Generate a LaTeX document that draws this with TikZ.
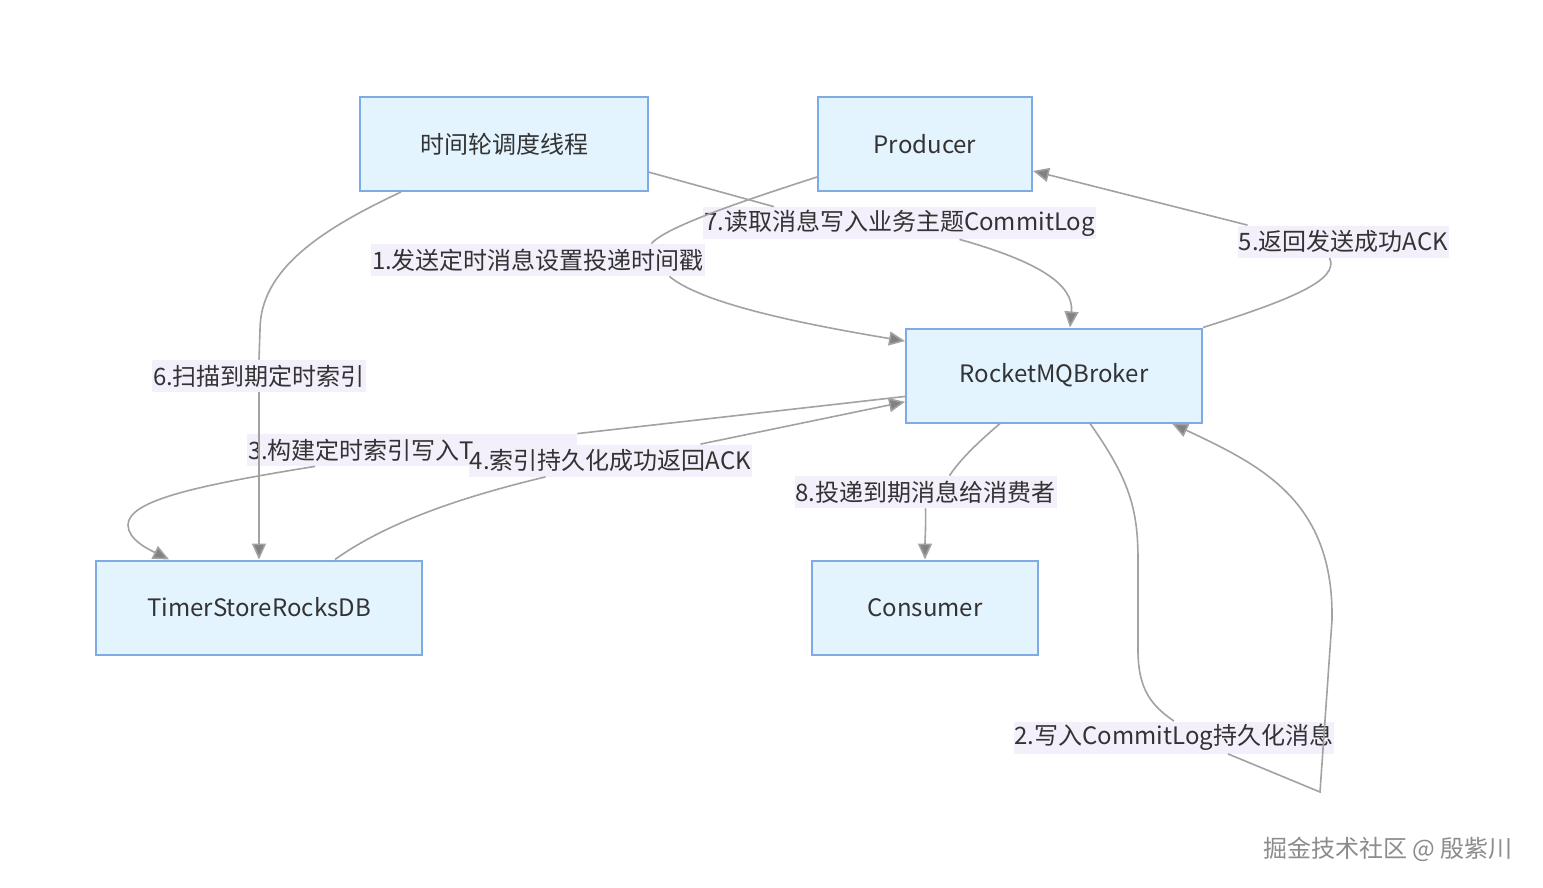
\documentclass[tikz,border=0pt]{standalone}
\usepackage{fontspec}
\setmainfont{Noto Sans CJK SC}
\usetikzlibrary{arrows.meta}
\definecolor{boxfill}{HTML}{E4F4FF}
\definecolor{boxline}{HTML}{7EAAE6}
\definecolor{lblfill}{HTML}{F3EFFB}
\definecolor{flowline}{HTML}{A2A2A2}
\definecolor{txt}{HTML}{333333}
\tikzset{
  box/.style={draw=boxline,line width=1pt,fill=boxfill,text=txt,minimum height=47pt,inner sep=0pt},
  lbl/.style={fill=lblfill,text=txt,inner xsep=0.5pt,inner ysep=0pt,minimum height=16pt},
  flow/.style={draw=flowline,line width=0.8pt,-{Triangle[length=8pt,width=7pt,fill=flowline!80!black]}},
  plain/.style={draw=flowline,line width=0.8pt}
}
\begin{document}
\begin{tikzpicture}[x=0.5pt,y=-0.5pt,font=\fontsize{12}{14}\selectfont]
            \useasboundingbox[fill=white] (0,0) rectangle (1543,888);

            \node[box,minimum width=144pt] (wheel) at (504,144) {时间轮调度线程};
            \node[box,minimum width=107pt] (prod) at (925,144) {Producer};
            \node[box,minimum width=148pt] (broker) at (1054,375.5) {RocketMQBroker};
            \node[box,minimum width=163pt] (rocks) at (259,607.5) {TimerStoreRocksDB};
            \node[box,minimum width=113pt] (cons) at (925,607.5) {Consumer};

            \node[lbl] (l1) at (538,260) {1.发送定时消息设置投递时间戳};
            \node[lbl] (l2) at (1174,737.5) {2.写入CommitLog持久化消息};
            \node[lbl,text width=164pt,align=left] (l3) at (412,450) {3.构建定时索引写入T};
            \node[lbl] (l4) at (610.5,460.5) {4.索引持久化成功返回ACK};
            \node[lbl] (l5) at (1343.5,241.5) {5.返回发送成功ACK};
            \node[lbl] (l6) at (259,376) {6.扫描到期定时索引};
            \node[lbl] (l7) at (899.5,223) {7.读取消息写入业务主题CommitLog};
            \node[lbl] (l8) at (925.5,492) {8.投递到期消息给消费者};

            \draw[plain] (prod.197) .. controls (730,205) and (665,228) .. ([xshift=-27pt]l1.north east);
            \draw[flow] ([xshift=-18pt]l1.south east) .. controls (700,302) and (790,322) .. (broker.167);

            \draw[plain] ([xshift=18pt]broker.south) .. controls (1130,480) and (1138,510) .. (1138,560)
                -- (1138,650) .. controls (1138,690) and (1152,706) .. (l2.north);
            \draw[flow] ([xshift=27pt]l2.south) -- (1320,792) -- (1332,620)
                .. controls (1334,500) and (1260,465) .. ([xshift=59pt]broker.south);

            \draw[plain] (broker.188) -- (l3.north east);
            \draw[flow] ([xshift=-48.5pt]l3.south) .. controls (200,485) and (128,500) .. (128,525)
                .. controls (128,540) and (150,550) .. ([xshift=37pt]rocks.north west);

            \draw[plain] ([xshift=38pt]rocks.north) .. controls (390,520) and (470,495) .. ([xshift=-32.5pt]l4.south);
            \draw[flow] ([xshift=45pt]l4.north) -- (broker.190.5);

            \draw[plain] (broker.north east) .. controls (1290,300) and (1340,280) .. ([xshift=-7pt]l5.south);
            \draw[flow] ([xshift=5pt]l5.north west) -- (prod.-14);

            \draw[plain] ([xshift=21pt]wheel.south west) .. controls (320,230) and (260,270) .. (260,330) -- (l6.north);
            \draw[flow] (l6.south) -- (rocks.north);

            \draw[plain] (wheel.-11) -- ([xshift=35.5pt]l7.north west);
            \draw[flow] ([xshift=30pt]l7.south) .. controls (1040,262) and (1074,285) .. ([xshift=8pt]broker.north);

            \draw[plain] ([xshift=-27pt]broker.south) .. controls (975,445) and (960,460) .. ([xshift=12pt]l8.north);
            \draw[flow] (l8.south) .. controls (926,525) and (925,540) .. (cons.north);

            \node[text=gray!90] (mark) at (1388,849) {掘金技术社区 @ 殷紫川};
        \end{tikzpicture}
\end{document}
